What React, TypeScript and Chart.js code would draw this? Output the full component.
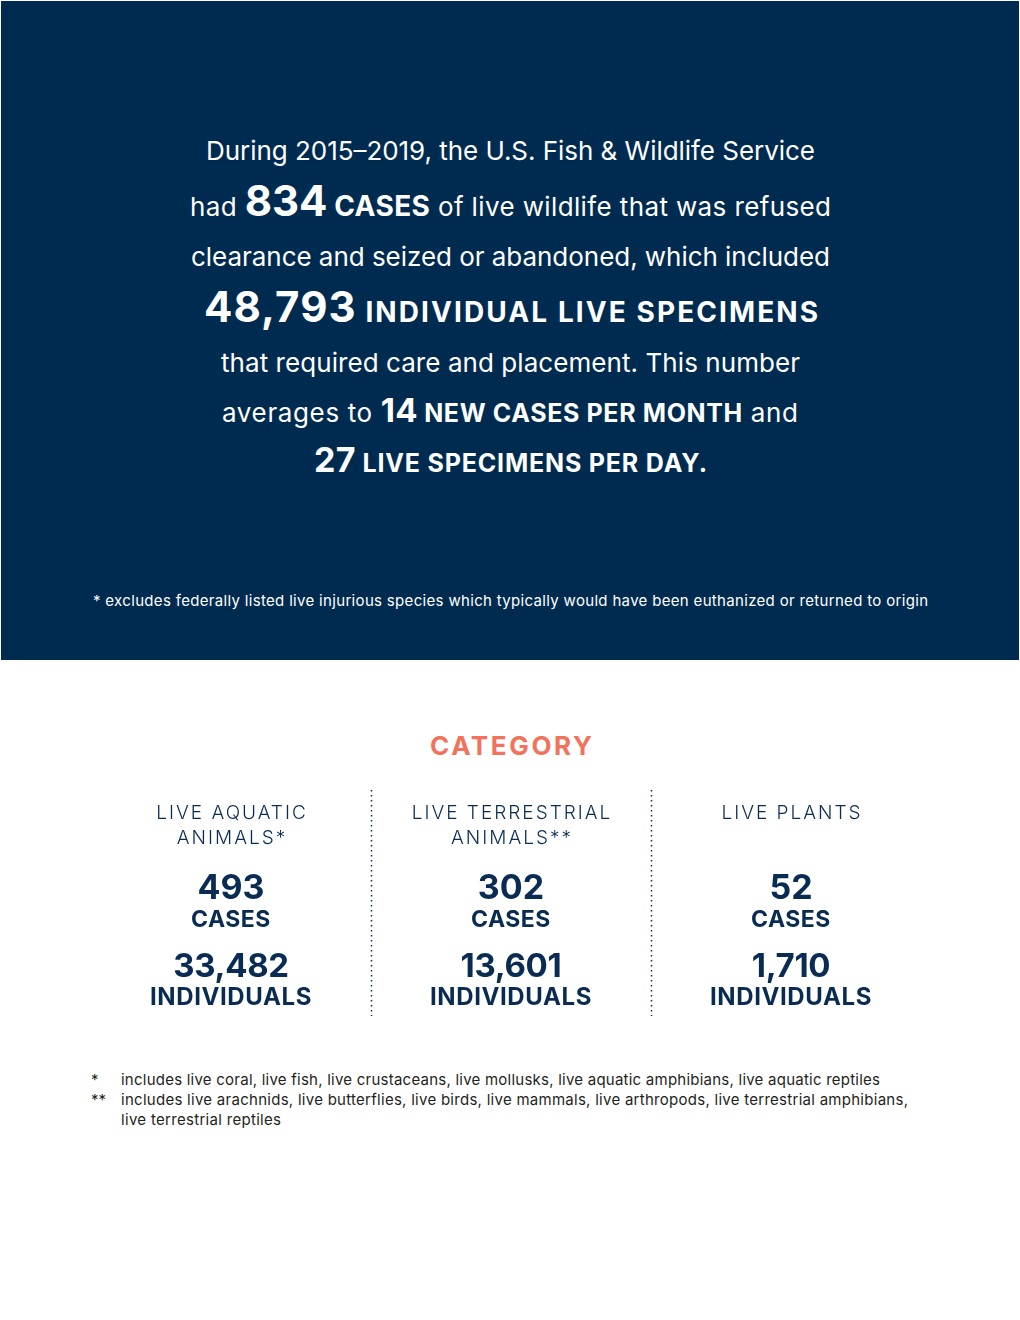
import React, { useEffect, useRef } from "react";
import { Chart, registerables } from "chart.js";

Chart.register(...registerables);

// ---- data ----
const CATEGORIES: string[][] = [
  ["LIVE AQUATIC", "ANIMALS*"],
  ["LIVE TERRESTRIAL", "ANIMALS**"],
  ["LIVE PLANTS"],
];
const CASES: number[] = [493, 302, 52];
const INDIVIDUALS: number[] = [33482, 13601, 1710];
const CASE_UNIT = "CASES";
const INDIVIDUAL_UNIT = "INDIVIDUALS";

const TOTAL_CASES = 834;
const TOTAL_SPECIMENS = 48793;
const CASES_PER_MONTH = 14;
const SPECIMENS_PER_DAY = 27;

const NAVY = "#002b50";
const TEXT_NAVY = "#0a2c52";
const CORAL = "#f1735c";
const FONT = "Inter, 'Noto Sans', sans-serif";

const fmt = (n: number) => n.toLocaleString("en-US");

const CANVAS_TOP = 770;

const infoPlugin = {
  id: "infoPlugin",
  afterDatasetsDraw(chart: any) {
    const ctx: CanvasRenderingContext2D = chart.ctx;
    const xs = chart.scales.x;
    const n = chart.data.labels.length;
    const cases = chart.data.datasets[0].data as number[];
    const inds = chart.data.datasets[1].data as number[];
    ctx.save();
    // separators
    ctx.strokeStyle = TEXT_NAVY;
    ctx.lineWidth = 1.5;
    ctx.setLineDash([1.5, 3.5]);
    for (let i = 0; i < n - 1; i++) {
      const x = Math.round((xs.getPixelForValue(i) + xs.getPixelForValue(i + 1)) / 2) + 0.5;
      ctx.beginPath();
      ctx.moveTo(x, 790 - CANVAS_TOP);
      ctx.lineTo(x, 1016 - CANVAS_TOP);
      ctx.stroke();
    }
    ctx.setLineDash([]);
    ctx.textAlign = "center";
    ctx.textBaseline = "alphabetic";
    ctx.fillStyle = TEXT_NAVY;
    for (let i = 0; i < n; i++) {
      const x = xs.getPixelForValue(i);
      const lab = chart.data.labels[i] as string[];
      ctx.font = `300 19px ${FONT}`;
      (ctx as any).letterSpacing = "2px";
      lab.forEach((l: string, j: number) => {
        ctx.fillText(l, x + 1, 819 - CANVAS_TOP + j * 25);
      });
      (ctx as any).letterSpacing = "0px";
      ctx.font = `700 34px ${FONT}`;
      ctx.fillText(fmt(cases[i]), x, 899 - CANVAS_TOP);
      (ctx as any).letterSpacing = "0.5px";
      ctx.font = `700 23px ${FONT}`;
      ctx.fillText(CASE_UNIT, x, 927 - CANVAS_TOP);
      (ctx as any).letterSpacing = "-0.3px";
      ctx.font = `700 33px ${FONT}`;
      ctx.fillText(fmt(inds[i]), x, 977 - CANVAS_TOP);
      (ctx as any).letterSpacing = "0.6px";
      ctx.font = `700 24px ${FONT}`;
      ctx.fillText(INDIVIDUAL_UNIT, x, 1005 - CANVAS_TOP);
      (ctx as any).letterSpacing = "0px";
    }
    ctx.restore();
  },
};

function CategoryChart() {
  const ref = useRef<HTMLCanvasElement | null>(null);
  useEffect(() => {
    if (!ref.current) return;
    const chart = new Chart(ref.current, {
      type: "bar",
      data: {
        labels: CATEGORIES as any,
        datasets: [
          { label: "Cases", data: CASES, backgroundColor: "rgba(0,0,0,0)", borderWidth: 0 },
          { label: "Individuals", data: INDIVIDUALS, backgroundColor: "rgba(0,0,0,0)", borderWidth: 0 },
        ],
      },
      options: {
        animation: false,
        responsive: false,
        devicePixelRatio: 1,
        events: [],
        layout: { padding: { left: 91, right: 89, top: 20, bottom: 10 } },
        plugins: { legend: { display: false }, tooltip: { enabled: false }, title: { display: false } },
        scales: {
          x: { display: false, offset: true },
          y: { display: false, beginAtZero: true },
        },
      },
      plugins: [infoPlugin],
    });
    return () => chart.destroy();
  }, []);
  return (
    <canvas
      ref={ref}
      width={1020}
      height={260}
      style={{ position: "absolute", left: 0, top: CANVAS_TOP, width: 1020, height: 260 }}
    />
  );
}

export default function App() {
  const white = "#ffffff";
  return (
    <div style={{ position: "absolute", left: 0, top: 0, width: 1020, height: 1320, background: "#fff", overflow: "hidden" }}>
      <svg width={1020} height={1320} style={{ position: "absolute", left: 0, top: 0 }} fontFamily={FONT}>
        <rect x={1} y={1} width={1018} height={659} fill={NAVY} />
        <g fill={white} textAnchor="middle" fontSize={26} fontWeight={400}>
          <text x={510.5} y={160} textLength={609} lengthAdjust="spacing">
            During 2015–2019, the U.S. Fish &amp; Wildlife Service
          </text>
          <text x={510.5} y={216} textLength={641} lengthAdjust="spacing">
            <tspan>{"had "}</tspan>
            <tspan fontWeight={700} fontSize={42} letterSpacing={-0.5}>{String(TOTAL_CASES)}</tspan>
            <tspan fontWeight={700} fontSize={28}>{" CASES"}</tspan>
            <tspan>{" of live wildlife that was refused"}</tspan>
          </text>
          <text x={510.5} y={266} textLength={639} lengthAdjust="spacing">
            clearance and seized or abandoned, which included
          </text>
          <text x={511} y={322} textLength={614} lengthAdjust="spacing">
            <tspan fontWeight={700} fontSize={42} letterSpacing={-1}>{fmt(TOTAL_SPECIMENS)}</tspan>
            <tspan fontWeight={700} fontSize={28}>{" INDIVIDUAL LIVE SPECIMENS"}</tspan>
          </text>
          <text x={510.5} y={372} textLength={579} lengthAdjust="spacing">
            that required care and placement. This number
          </text>
          <text x={510} y={422} textLength={576} lengthAdjust="spacing">
            <tspan>{"averages to "}</tspan>
            <tspan fontWeight={700} fontSize={33} letterSpacing={-0.5}>{String(CASES_PER_MONTH)}</tspan>
            <tspan fontWeight={700} fontSize={25}>{" NEW CASES PER MONTH"}</tspan>
            <tspan>{" and"}</tspan>
          </text>
          <text x={510.5} y={472} textLength={393} lengthAdjust="spacing">
            <tspan fontWeight={700} fontSize={34} letterSpacing={-0.5}>{String(SPECIMENS_PER_DAY)}</tspan>
            <tspan fontWeight={700} fontSize={25}>{" LIVE SPECIMENS PER DAY."}</tspan>
          </text>
          <text x={510.5} y={606} fontSize={15} textLength={835} lengthAdjust="spacing">
            * excludes federally listed live injurious species which typically would have been euthanized or returned to origin
          </text>
        </g>
        <text x={511} y={755} textAnchor="middle" fill={CORAL} fontSize={26} fontWeight={700} textLength={162} lengthAdjust="spacing">
          CATEGORY
        </text>
        <g fill="#231f20" fontSize={15} fontWeight={400}>
          <text x={91} y={1085}>*</text>
          <text x={121} y={1085} textLength={759} lengthAdjust="spacing">
            includes live coral, live fish, live crustaceans, live mollusks, live aquatic amphibians, live aquatic reptiles
          </text>
          <text x={91} y={1105}>**</text>
          <text x={121} y={1105} textLength={787} lengthAdjust="spacing">
            includes live arachnids, live butterflies, live birds, live mammals, live arthropods, live terrestrial amphibians,
          </text>
          <text x={121} y={1125} textLength={160} lengthAdjust="spacing">
            live terrestrial reptiles
          </text>
        </g>
      </svg>
      <CategoryChart />
    </div>
  );
}
